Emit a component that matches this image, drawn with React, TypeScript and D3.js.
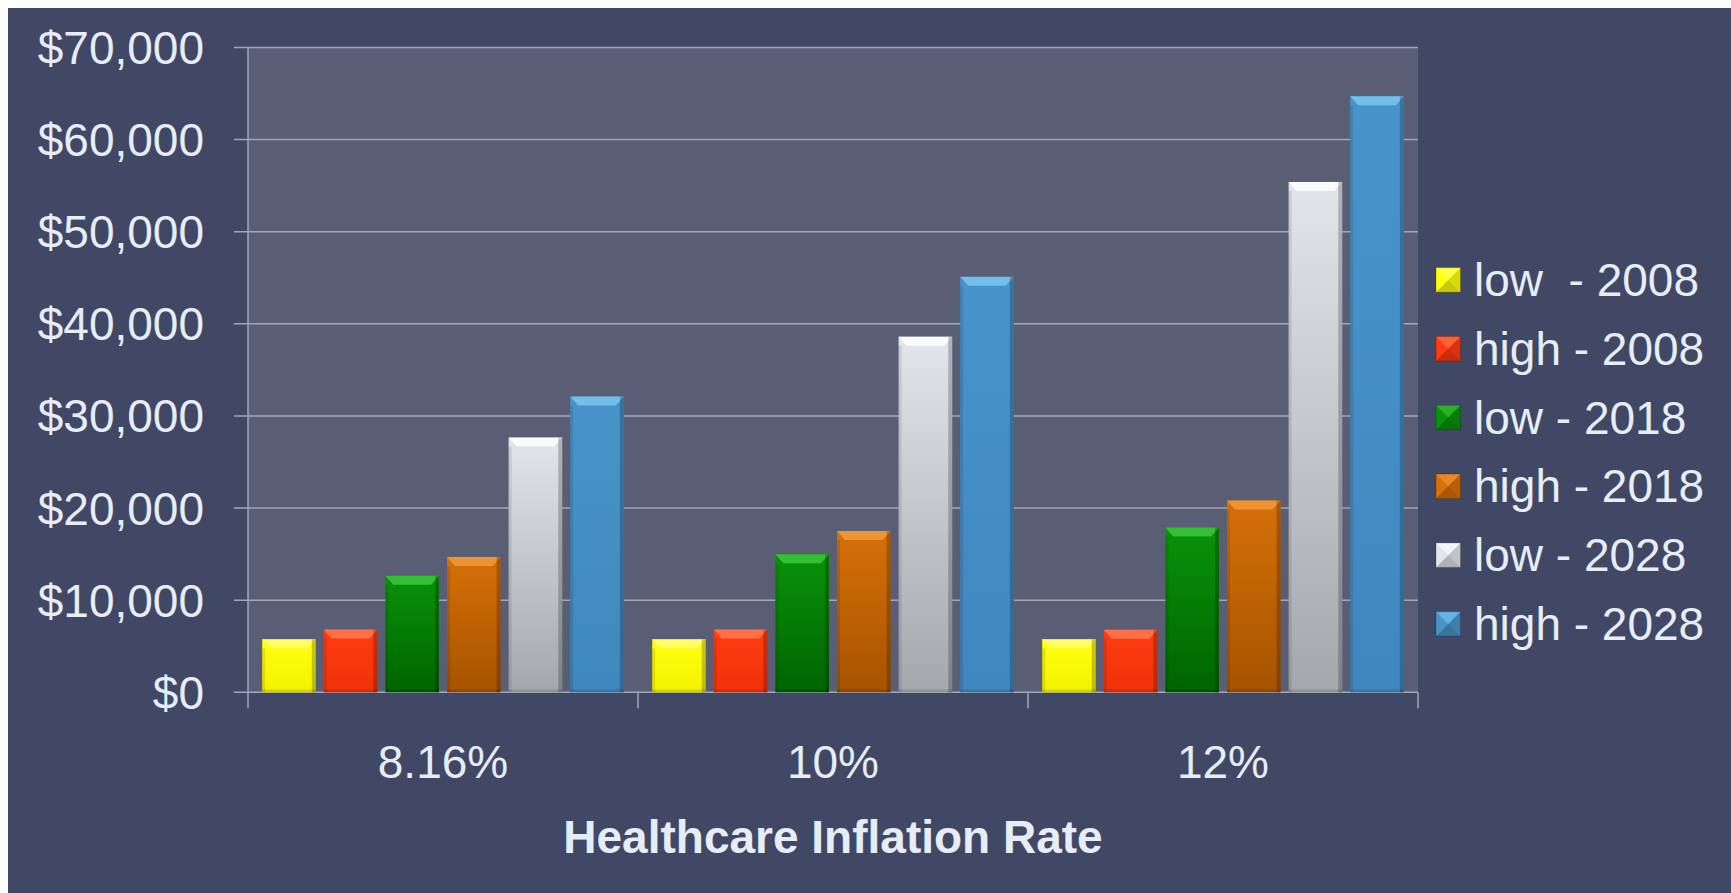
import { format, scaleBand, scaleLinear } from 'd3';

const categories = ['8.16%', '10%', '12%'];
const seriesNames = ['low  - 2008', 'high - 2008', 'low - 2018', 'high - 2018', 'low - 2028', 'high - 2028'];

const low2008 = [5750, 5750, 5750];
const high2008 = [6830, 6830, 6800];
const low2018 = [12650, 15000, 17900];
const high2018 = [14700, 17500, 20820];
const low2028 = [27650, 38600, 55400];
const high2028 = [32100, 45100, 64700];

const yTicks = [0, 10000, 20000, 30000, 40000, 50000, 60000, 70000];

const seriesValues = [low2008, high2008, low2018, high2018, low2028, high2028];

// body gradient top/bottom, bevel highlight
const seriesColors = [
  { top: '#ffff10', bottom: '#f2f200', hi: '#ffff70' },
  { top: '#ff3c12', bottom: '#f03208', hi: '#ff7a50' },
  { top: '#0a920a', bottom: '#006400', hi: '#3cc83c' },
  { top: '#d67008', bottom: '#a65300', hi: '#f29a3c' },
  { top: '#e2e6ea', bottom: '#a4a8ac', hi: '#ffffff' },
  { top: '#4894ca', bottom: '#3f88bf', hi: '#7cc6f2' },
];

const W = 1723;
const H = 885;
const plot = { left: 240, right: 1410, top: 39.5, bottom: 684.3 };
const textColor = '#e6edf5';
const font = '"Liberation Sans", Arial, sans-serif';

const Bar = ({ x, y, w, h, i }: { x: number; y: number; w: number; h: number; i: number }) => {
  const c = seriesColors[i];
  const b = Math.min(9, h / 2);
  return (
    <g>
      <rect x={x} y={y} width={w} height={h} fill={`url(#bar-grad-${i})`} />
      <polygon
        points={`${x},${y} ${x + w},${y} ${x + w - 8},${y + b} ${x + 8},${y + b}`}
        fill={c.hi}
        opacity={0.85}
      />
      <rect x={x} y={y + b} width={3} height={h - b} fill="#000" opacity={0.1} />
      <rect x={x + w - 4} y={y} width={4} height={h} fill="#000" opacity={0.22} />
      <rect x={x} y={y + h - 3} width={w} height={3} fill="#000" opacity={0.12} />
    </g>
  );
};

const Swatch = ({ x, y, s, i }: { x: number; y: number; s: number; i: number }) => {
  const c = seriesColors[i];
  const m = s / 2;
  return (
    <g>
      <rect x={x} y={y} width={s} height={s} fill={c.top} />
      <polygon points={`${x},${y} ${x + s},${y} ${x + m},${y + m}`} fill={c.hi} opacity={0.6} />
      <polygon points={`${x + s},${y} ${x + s},${y + s} ${x + m},${y + m}`} fill="#000" opacity={0.15} />
      <polygon points={`${x},${y + s} ${x + s},${y + s} ${x + m},${y + m}`} fill="#000" opacity={0.22} />
      <rect x={x} y={y} width={s} height={s} fill="none" stroke="#000" strokeOpacity={0.2} strokeWidth={1} />
    </g>
  );
};

export default function App() {
  const x0 = scaleBand<string>().domain(categories).range([plot.left, plot.right]).padding(0);
  const x1 = scaleBand<string>()
    .domain(seriesNames)
    .range([0, x0.bandwidth()])
    .paddingInner(0.13)
    .paddingOuter(0.23);
  const y = scaleLinear().domain([0, 70000]).range([plot.bottom, plot.top]);
  const fmt = format(',');

  const boundaries = [...categories.map((c) => x0(c) as number), plot.right];

  return (
    <svg
      width={W}
      height={H}
      style={{ position: 'absolute', left: 8, top: 8, display: 'block' }}
      fontFamily={font}
    >
      <defs>
        {seriesColors.map((c, i) => (
          <linearGradient key={i} id={`bar-grad-${i}`} x1="0" y1="0" x2="0" y2="1">
            <stop offset="0%" stopColor={c.top} />
            <stop offset="100%" stopColor={c.bottom} />
          </linearGradient>
        ))}
      </defs>
      <rect x={0} y={0} width={W} height={H} fill="#414866" />
      <rect
        x={plot.left}
        y={plot.top}
        width={plot.right - plot.left}
        height={plot.bottom - plot.top}
        fill="#5a5e74"
      />

      {/* grid + y ticks */}
      {yTicks.map((t) => (
        <g key={t}>
          <line x1={plot.left - 14} x2={plot.right} y1={y(t)} y2={y(t)} stroke="#a3a5b8" strokeWidth={1.5} />
          <text
            x={196}
            y={y(t) + 16.5}
            textAnchor="end"
            fontSize={46}
            fill={textColor}
          >
            {`$${fmt(t)}`}
          </text>
        </g>
      ))}

      {/* left axis line */}
      <line x1={plot.left} x2={plot.left} y1={plot.top} y2={plot.bottom + 16} stroke="#a3a5b8" strokeWidth={1.5} />

      {/* category ticks */}
      {boundaries.slice(1).map((bx, i) => (
        <line key={i} x1={bx} x2={bx} y1={plot.bottom} y2={plot.bottom + 16} stroke="#a3a5b8" strokeWidth={1.5} />
      ))}

      {/* bars */}
      {categories.map((cat, ci) => (
        <g key={cat} transform={`translate(${x0(cat)},0)`}>
          {seriesNames.map((s, si) => {
            const v = seriesValues[si][ci];
            return (
              <Bar
                key={s}
                x={x1(s) as number}
                y={y(v)}
                w={x1.bandwidth()}
                h={plot.bottom - y(v)}
                i={si}
              />
            );
          })}
        </g>
      ))}

      {/* x labels */}
      {categories.map((cat) => (
        <text
          key={cat}
          x={(x0(cat) as number) + x0.bandwidth() / 2}
          y={770}
          textAnchor="middle"
          fontSize={46}
          fill={textColor}
        >
          {cat}
        </text>
      ))}

      <text
        x={(plot.left + plot.right) / 2}
        y={845}
        textAnchor="middle"
        fontSize={46}
        fontWeight="bold"
        fill={textColor}
      >
        Healthcare Inflation Rate
      </text>

      {/* legend */}
      {seriesNames.map((s, i) => (
        <g key={s}>
          <Swatch x={1428} y={259.7 + i * 68.8} s={24.5} i={i} />
          <text
            x={1466}
            y={288 + i * 68.8}
            fontSize={46}
            fill={textColor}
            style={{ whiteSpace: 'pre' }}
          >
            {s}
          </text>
        </g>
      ))}
    </svg>
  );
}
